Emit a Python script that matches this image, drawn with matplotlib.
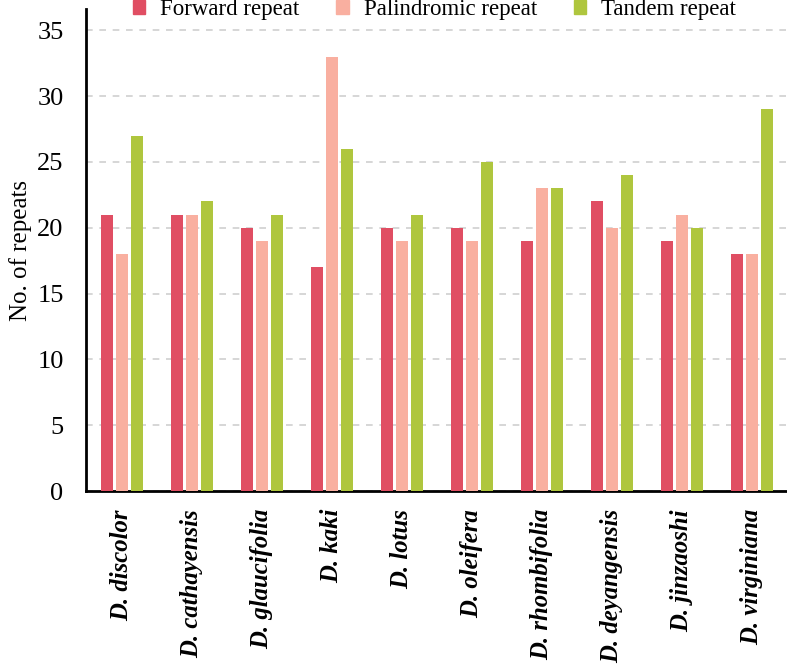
import numpy as np
import matplotlib
matplotlib.use("Agg")
import matplotlib.pyplot as plt
from matplotlib.patches import Patch

species = ["D. discolor", "D. cathayensis", "D. glaucifolia", "D. kaki", "D. lotus",
           "D. oleifera", "D. rhombifolia", "D. deyangensis", "D. jinzaoshi", "D. virginiana"]
forward = [21, 21, 20, 17, 20, 20, 19, 22, 19, 18]
palindromic = [18, 21, 19, 33, 19, 19, 23, 20, 21, 18]
tandem = [27, 22, 21, 26, 21, 25, 23, 24, 20, 29]
series_names = ["Forward repeat", "Palindromic repeat", "Tandem repeat"]
colors = ["#E04E63", "#F9AFA0", "#AFC63E"]

plt.rcParams["font.family"] = ["Liberation Serif", "DejaVu Serif"]

fig = plt.figure(figsize=(7.87, 6.64), dpi=100)
ax = fig.add_axes([0.109, 0.2605, 0.891, 0.7255])

x = np.arange(len(species))
pitch = 0.214
width = 0.176
for i, (vals, col) in enumerate(zip([forward, palindromic, tandem], colors)):
    ax.bar(x + (i - 1) * pitch, vals, width=width, color=col, zorder=3)

ax.set_xlim(-0.517, 9.5)
ax.set_ylim(0, 36.6)
ax.set_yticks(range(0, 36, 5))
ax.yaxis.grid(True, color="#cfcfcf", linestyle=(0, (4, 4)), linewidth=1.2, zorder=0)
ax.set_axisbelow(True)

for side in ["top", "right"]:
    ax.spines[side].set_visible(False)
ax.spines["left"].set_linewidth(2)
ax.spines["bottom"].set_linewidth(2)

ax.tick_params(axis="y", length=0, pad=16, labelsize=19)
ax.tick_params(axis="x", length=0, pad=13)
ax.set_xticks(x)
ax.set_xticklabels(species, rotation=90, fontsize=17.8, fontweight="bold", fontstyle="italic",
                   va="top", ha="center")
ax.set_ylabel("No. of repeats", fontsize=18, labelpad=4)

handles = [Patch(color=c, label=n) for c, n in zip(colors, series_names)]
fig.legend(handles=handles, loc="center", bbox_to_anchor=(0.552, 0.986), ncol=3,
           frameon=False, fontsize=16.5, handlelength=0.55, handleheight=0.55,
           handletextpad=0.65, columnspacing=1.6)

fig.savefig("out.png", dpi=100)
